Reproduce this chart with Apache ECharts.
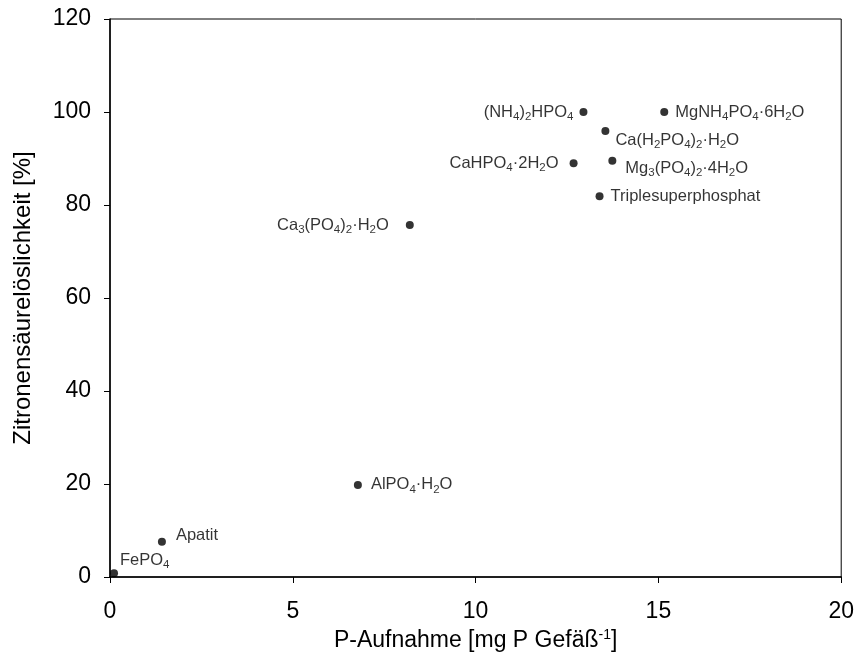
<!DOCTYPE html>
<html><head><meta charset="utf-8">
<script src="https://cdn.jsdelivr.net/npm/echarts@6/dist/echarts.min.js"></script>
<style>html,body{margin:0;padding:0;background:#fff}#c{width:857px;height:664px}</style>
</head><body><div id="c"></div>
<script>
// Data
const names = ['FePO{s|4}','Apatit','AlPO{s|4}·H{s|2}O','Ca{s|3}(PO{s|4}){s|2}·H{s|2}O','CaHPO{s|4}·2H{s|2}O','(NH{s|4}){s|2}HPO{s|4}','Ca(H{s|2}PO{s|4}){s|2}·H{s|2}O','Mg{s|3}(PO{s|4}){s|2}·4H{s|2}O','Triplesuperphosphat','MgNH{s|4}PO{s|4}·6H{s|2}O'];
const pUptake = [0.11, 1.42, 6.78, 8.2, 12.68, 12.95, 13.55, 13.74, 13.39, 15.16];
const citricSol = [0.8, 7.6, 19.8, 75.7, 89.0, 100, 95.9, 89.5, 81.9, 100];
const xTicks = [0, 5, 10, 15, 20];
const yTicks = [0, 20, 40, 60, 80, 100, 120];

// label placement (style only)
const labelPos = [
  {position:'right', offset:[0,-13], distance:2},
  {position:'right', offset:[0,-6], distance:10},
  {position:'right', offset:[0,0], distance:9},
  {position:'left', offset:[0,0], distance:17},
  {position:'left', offset:[0,0], distance:11},
  {position:'left', offset:[0,0], distance:6},
  {position:'right', offset:[0,9], distance:6},
  {position:'right', offset:[0,8], distance:9},
  {position:'right', offset:[0,0], distance:7},
  {position:'right', offset:[0,0], distance:7}
];

const data = pUptake.map((x,i)=>({
  value:[x, citricSol[i]],
  label:Object.assign({show:true, formatter:names[i]}, labelPos[i])
}));

const chart = echarts.init(document.getElementById('c'), null, {renderer:'canvas'});
const FF = '"Liberation Sans", Arial, sans-serif';
chart.setOption({
  animation:false,
  backgroundColor:'#fff',
  grid:{left:110, right:15, top:19, bottom:87, show:true, borderColor:'#000', borderWidth:1, backgroundColor:'transparent'},
  xAxis:{
    type:'value', min:xTicks[0], max:xTicks[xTicks.length-1], interval:5,
    axisLine:{onZero:false, lineStyle:{color:'#000', width:1.5}},
    axisTick:{show:true, inside:false, length:6, lineStyle:{color:'#000'}},
    splitLine:{show:false},
    axisLabel:{color:'#000', fontFamily:FF, fontSize:23, margin:23},
    name:'P-Aufnahme [mg P Gefäß{sup|-1}]',
    nameLocation:'middle', nameGap:46,
    nameTextStyle:{color:'#000', fontFamily:FF, fontSize:23,
      rich:{sup:{fontSize:14, fontFamily:FF, color:'#000', padding:[0,0,12,0]}}}
  },
  yAxis:{
    type:'value', min:yTicks[0], max:yTicks[yTicks.length-1], interval:20,
    axisLine:{onZero:false, lineStyle:{color:'#000', width:1.5}},
    axisTick:{show:true, inside:false, length:6, lineStyle:{color:'#000'}},
    splitLine:{show:false},
    axisLabel:{color:'#000', fontFamily:FF, fontSize:23, margin:19},
    name:'Zitronensäurelöslichkeit [%]',
    nameLocation:'middle', nameGap:75,
    nameTextStyle:{color:'#000', fontFamily:FF, fontSize:24}
  },
  series:[{
    type:'scatter',
    symbol:'circle', symbolSize:8,
    itemStyle:{color:'#000'},
    data:data,
    label:{color:'#000', fontFamily:FF, fontSize:16.5,
      rich:{s:{fontSize:11.5, fontFamily:FF, color:'#000', padding:[9,0,0,0]}}}
  }]
});
</script></body></html>
